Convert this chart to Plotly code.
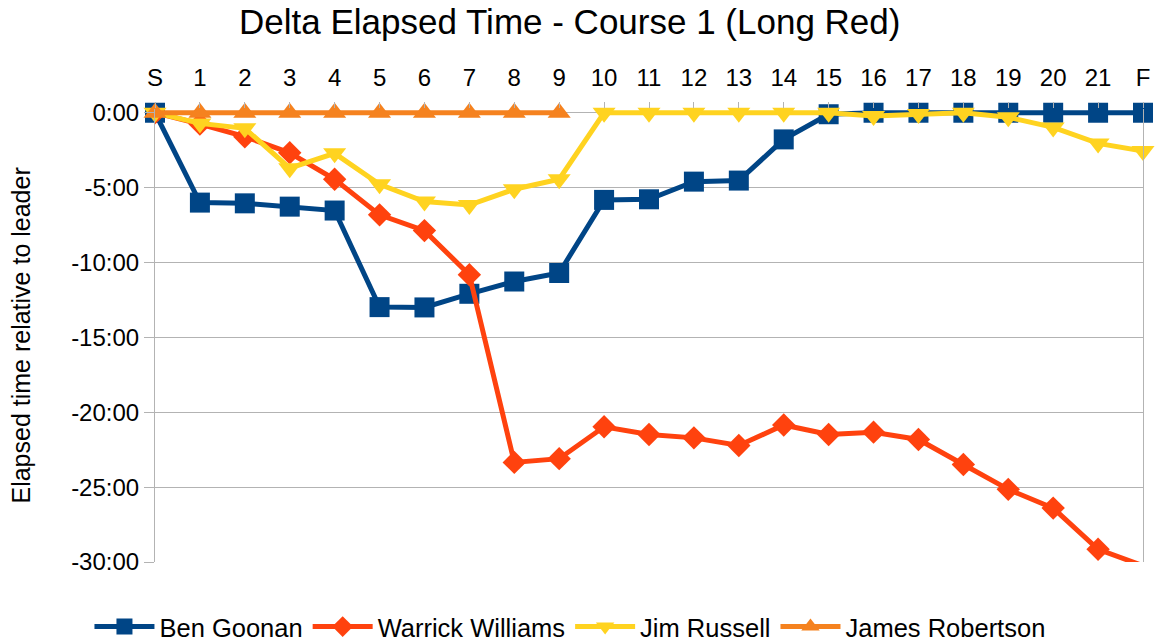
import plotly.graph_objects as go

checkpoints = ["S"] + [str(i) for i in range(1, 22)] + ["F"]

# minutes relative to leader (negative = behind)
ben_goonan = [0, -6.0, -6.05, -6.27, -6.53, -12.98, -13.0, -12.09, -11.27, -10.7,
              -5.82, -5.78, -4.6, -4.53, -1.78, -0.1, 0, 0, 0, 0, 0, 0, 0]
warrick_williams = [0, -0.75, -1.6, -2.67, -4.44, -6.82, -7.87, -10.82, -23.35, -23.1,
                    -20.97, -21.49, -21.71, -22.22, -20.85, -21.49, -21.33, -21.82,
                    -23.49, -25.15, -26.4, -29.15, -30.25]
jim_russell = [0, -0.71, -1.04, -3.7, -2.71, -4.78, -5.93, -6.16, -5.11, -4.44,
               0, 0, 0, 0, 0, 0, -0.22, -0.09, 0, -0.3, -0.98, -2.05, -2.55]
james_robertson = [0, 0, 0, 0, 0, 0, 0, 0, 0, 0]

y_tick_vals = [0, -5, -10, -15, -20, -25, -30]
y_tick_text = ["0:00", "-5:00", "-10:00", "-15:00", "-20:00", "-25:00", "-30:00"]

series = [
    ("Ben Goonan", ben_goonan, "#004586", "square", False),
    ("Warrick Williams", warrick_williams, "#ff420e", "diamond", True),
    ("Jim Russell", jim_russell, "#ffd320", "triangle-down", False),
    ("James Robertson", james_robertson, "#f5821f", "triangle-up", False),
]

fig = go.Figure()
for name, vals, color, symbol, clip in series:
    fig.add_trace(go.Scatter(
        x=checkpoints[:len(vals)], y=vals, name=name, mode="lines+markers",
        line=dict(color=color, width=5),
        marker=dict(symbol=symbol, size=20 if symbol != "diamond" else 18, color=color),
        cliponaxis=clip,
    ))

font_family = "Liberation Sans, Arial, sans-serif"
fig.update_layout(
    width=1158, height=643,
    paper_bgcolor="white", plot_bgcolor="white",
    margin=dict(l=155, r=15, t=109, b=81, autoexpand=False),
    font=dict(family=font_family, size=24, color="black"),
    title=dict(text="Delta Elapsed Time - Course 1 (Long Red)", x=0.492, xanchor="center",
               xref="container", y=0.966, yanchor="middle", yref="container",
               font=dict(size=35, family=font_family)),
    showlegend=True,
    legend=dict(orientation="h", x=0.42, xanchor="center", xref="paper",
                y=-0.1435, yanchor="middle", yref="paper", font=dict(size=25.5),
                itemwidth=60, traceorder="normal"),
    annotations=[dict(text="Elapsed time relative to leader", textangle=-90,
                      x=-0.1366, xref="paper", xanchor="center",
                      y=0.5, yref="paper", yanchor="middle", showarrow=False,
                      font=dict(size=25))],
)
fig.update_xaxes(
    type="category", categoryorder="array", categoryarray=checkpoints,
    tickmode="array", tickvals=checkpoints,
    side="top", range=[0, 22], showgrid=False, zeroline=False, automargin=False,
    ticks="outside", ticklen=6, tickcolor="#b3b3b3", showline=False,
    tickfont=dict(size=24), ticklabelstandoff=6,
)
fig.update_yaxes(
    range=[-30, 0.25], tickvals=y_tick_vals, ticktext=y_tick_text, automargin=False,
    showgrid=True, gridcolor="#b3b3b3", gridwidth=1, zeroline=False,
    showline=True, linecolor="#b3b3b3", linewidth=1, mirror=True,
    ticks="outside", ticklen=10, tickcolor="#b3b3b3", ticklabelstandoff=0,
    tickfont=dict(size=24),
)

fig.write_html("out.html", config={"displayModeBar": False},
               post_script="document.body.style.margin='0';")
